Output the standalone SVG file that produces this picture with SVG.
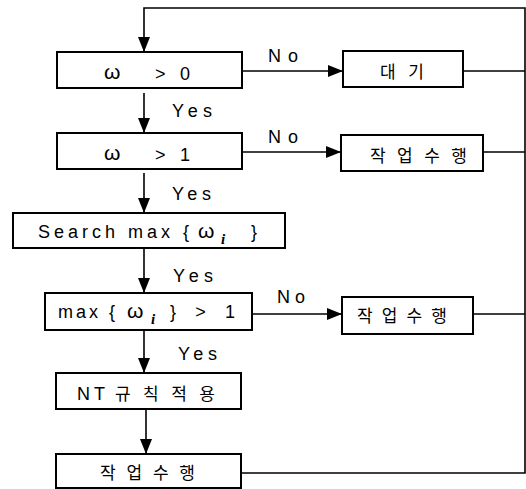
<svg xmlns="http://www.w3.org/2000/svg" width="526" height="489" viewBox="0 0 526 489">
<style>
.box{fill:#fff;stroke:#000;stroke-width:2}
.t{font-family:"Liberation Sans","Noto Sans CJK KR",sans-serif;font-size:18px;fill:#000}
.k{font-family:"Noto Sans CJK KR","Liberation Sans",sans-serif;font-size:17px;fill:#000}
.w{font-family:"Liberation Sans","DejaVu Sans",sans-serif;font-size:21px;fill:#000}
.s{font-family:"Liberation Serif",serif;font-size:15px;font-style:italic;font-weight:bold;fill:#000}
.c{fill:none;stroke:#000;stroke-width:1.6}
</style>
<defs>
<marker id="ah" markerUnits="userSpaceOnUse" markerWidth="15" markerHeight="12" refX="15" refY="6" orient="auto">
<path d="M0,0 L15,6 L0,12 z" fill="#000"/>
</marker>
</defs>
<rect width="526" height="489" fill="#fff"/>
<g id="connectors">
<path class="c" d="M241,473 H525 V8 H144 V52" marker-end="url(#ah)"/>
<path class="c" d="M463,71 H525"/>
<path class="c" d="M483,152 H525"/>
<path class="c" d="M473,314 H525"/>
<path class="c" d="M242,71 H343" marker-end="url(#ah)"/>
<path class="c" d="M242,152 H341" marker-end="url(#ah)"/>
<path class="c" d="M252,314 H342" marker-end="url(#ah)"/>
<path class="c" d="M144,93 V133" marker-end="url(#ah)"/>
<path class="c" d="M144,173 V213" marker-end="url(#ah)"/>
<path class="c" d="M144,248 V293" marker-end="url(#ah)"/>
<path class="c" d="M144,330 V373" marker-end="url(#ah)"/>
<path class="c" d="M146,409 V454" marker-end="url(#ah)"/>
<text class="t" x="268" y="62" textLength="30" lengthAdjust="spacing">No</text>
<text class="t" x="268" y="143" textLength="30" lengthAdjust="spacing">No</text>
<text class="t" x="277" y="303" textLength="28" lengthAdjust="spacing">No</text>
<text class="t" x="172" y="117" textLength="40" lengthAdjust="spacing">Yes</text>
<text class="t" x="172" y="200" textLength="39" lengthAdjust="spacing">Yes</text>
<text class="t" x="173" y="282" textLength="40" lengthAdjust="spacing">Yes</text>
<text class="t" x="178" y="360" textLength="39" lengthAdjust="spacing">Yes</text>
</g>
<g id="n1">
<rect class="box" x="57" y="52" width="185" height="36"/>
<text class="w" x="104" y="79">ω</text>
<text class="t" x="155" y="80" textLength="35" lengthAdjust="spacing">&gt; 0</text>
</g>
<g id="n2">
<rect class="box" x="343" y="51" width="120" height="36"/>
<text class="k" x="380" y="78" textLength="44" lengthAdjust="spacing">대기</text>
</g>
<g id="n3">
<rect class="box" x="57" y="133" width="185" height="36"/>
<text class="w" x="104" y="160">ω</text>
<text class="t" x="155" y="161" textLength="35" lengthAdjust="spacing">&gt; 1</text>
</g>
<g id="n4">
<rect class="box" x="341" y="135" width="142" height="36"/>
<text class="k" x="370" y="162" textLength="97" lengthAdjust="spacing">작업수행</text>
</g>
<g id="n5">
<rect class="box" x="13" y="213" width="272" height="35"/>
<text class="t" x="38" y="238" textLength="151" lengthAdjust="spacing">Search max {</text>
<text class="w" x="198" y="238">ω</text>
<text class="s" x="221" y="244">i</text>
<text class="t" x="251" y="238">}</text>
</g>
<g id="n6">
<rect class="box" x="45" y="293" width="207" height="37"/>
<text class="t" x="58" y="318" textLength="57" lengthAdjust="spacing">max {</text>
<text class="w" x="127" y="318">ω</text>
<text class="s" x="151" y="324">i</text>
<text class="t" x="170" y="318" textLength="65" lengthAdjust="spacing">} &gt; 1</text>
</g>
<g id="n7">
<rect class="box" x="342" y="297" width="131" height="37"/>
<text class="k" x="357" y="322" textLength="90" lengthAdjust="spacing">작업수행</text>
</g>
<g id="n8">
<rect class="box" x="56" y="373" width="185" height="36"/>
<text class="t" x="77" y="400" textLength="28" lengthAdjust="spacing">NT</text>
<text class="k" x="115" y="400" textLength="100" lengthAdjust="spacing">규칙적용</text>
</g>
<g id="n9">
<rect class="box" x="56" y="454" width="185" height="34"/>
<text class="k" x="100" y="479" textLength="95" lengthAdjust="spacing">작업수행</text>
</g>
</svg>
